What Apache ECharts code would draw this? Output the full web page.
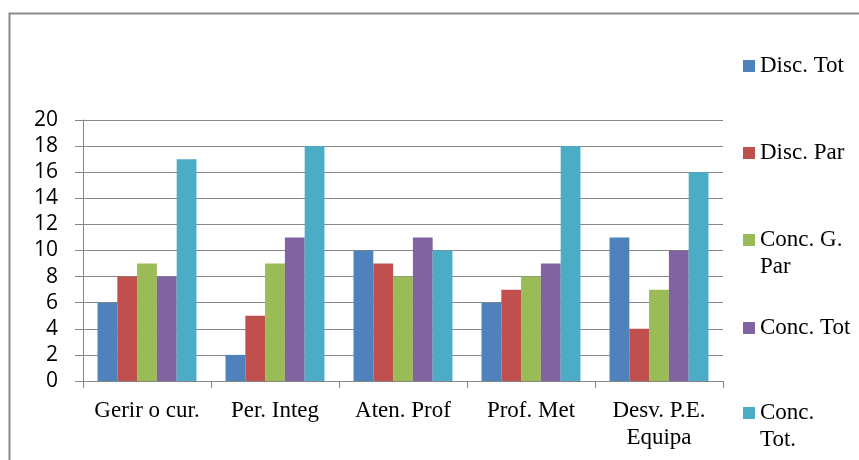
<!DOCTYPE html>
<html>
<head>
<meta charset="utf-8">
<script src="https://cdn.jsdelivr.net/npm/echarts@6/dist/echarts.min.js"></script>
<style>
  html, body { margin: 0; padding: 0; background: #fff; }
  #chart { width: 859px; height: 460px; }
</style>
</head>
<body>
<div id="chart"></div>
<script>
// Categories along the x axis
const categories = ['Gerir o cur.', 'Per. Integ', 'Aten. Prof', 'Prof. Met', 'Desv. P.E.\nEquipa'];

// Series names and counts per category
const seriesNames = ['Disc. Tot', 'Disc. Par', 'Conc. G. Par', 'Conc. Tot', 'Conc. Tot.'];
const discTot   = [6, 2, 10, 6, 11];
const discPar   = [8, 5, 9, 7, 4];
const concGPar  = [9, 9, 8, 8, 7];
const concTot   = [8, 11, 11, 9, 10];
const concTotB  = [17, 18, 10, 18, 16];

// Y axis ticks
const yTicks = [0, 2, 4, 6, 8, 10, 12, 14, 16, 18, 20];

// Legend labels as displayed (wrapped)
const legendLabels = ['Disc. Tot', 'Disc. Par', 'Conc. G.\nPar', 'Conc. Tot', 'Conc.\nTot.'];

const seriesValues = [discTot, discPar, concGPar, concTot, concTotB];
const colors = ['#4F81BD', '#C0504D', '#9BBB59', '#8064A2', '#4BACC6'];
const legendCenters = [66, 153, 240, 328, 413];

const serif = '"Liberation Serif", "Times New Roman", serif';
const axisGray = '#868686';

// One legend block per series so each swatch lines up with the first line of its label.
// Wrapped labels get an empty leading line, which keeps the swatch level with "Conc. G." / "Conc.".
const legends = seriesNames.map((name, i) => {
  const twoLine = legendLabels[i].indexOf('\n') >= 0;
  const lh = 27;
  return {
    orient: 'vertical',
    left: 743,
    top: twoLine ? legendCenters[i] - lh * 1.5 : legendCenters[i] - lh / 2,
    padding: 0,
    itemWidth: 12,
    itemHeight: 12,
    icon: 'rect',
    selectedMode: false,
    data: [name],
    formatter: () => (twoLine ? ' \n' : '') + legendLabels[i],
    textStyle: {
      fontFamily: serif,
      fontSize: 23,
      color: '#000',
      lineHeight: lh
    }
  };
});

const chart = echarts.init(document.getElementById('chart'), null, { renderer: 'canvas' });

chart.setOption({
  animation: false,
  backgroundColor: '#fff',
  color: colors,
  graphic: [{
    type: 'rect',
    shape: { x: 9.5, y: 13.5, width: 900, height: 500 },
    style: { fill: 'none', stroke: '#8a8a8a', lineWidth: 2 },
    silent: true
  }],
  legend: legends,
  grid: { left: 83, right: 136, top: 120, bottom: 79, containLabel: false },
  xAxis: {
    type: 'category',
    data: categories,
    boundaryGap: true,
    axisLine: { show: true, lineStyle: { color: axisGray, width: 1 } },
    axisTick: { show: true, length: 7, alignWithLabel: false, lineStyle: { color: axisGray } },
    axisLabel: {
      fontFamily: serif,
      fontSize: 23,
      color: '#000',
      lineHeight: 27,
      margin: 16,
      interval: 0
    },
    splitLine: { show: false }
  },
  yAxis: {
    type: 'value',
    min: yTicks[0],
    max: yTicks[yTicks.length - 1],
    interval: yTicks[1] - yTicks[0],
    axisLine: { show: true, lineStyle: { color: axisGray, width: 1 } },
    axisTick: { show: true, length: 8, lineStyle: { color: axisGray } },
    axisLabel: {
      fontFamily: '"Open Sans", "Noto Sans", sans-serif',
      fontSize: 21,
      color: '#000',
      margin: 25
    },
    splitLine: { show: true, lineStyle: { color: axisGray, width: 1 } }
  },
  series: seriesNames.map((name, i) => ({
    name: name,
    type: 'bar',
    data: seriesValues[i],
    barGap: '0%',
    barCategoryGap: '22.7%',
    itemStyle: { color: colors[i] }
  }))
});
</script>
</body>
</html>
